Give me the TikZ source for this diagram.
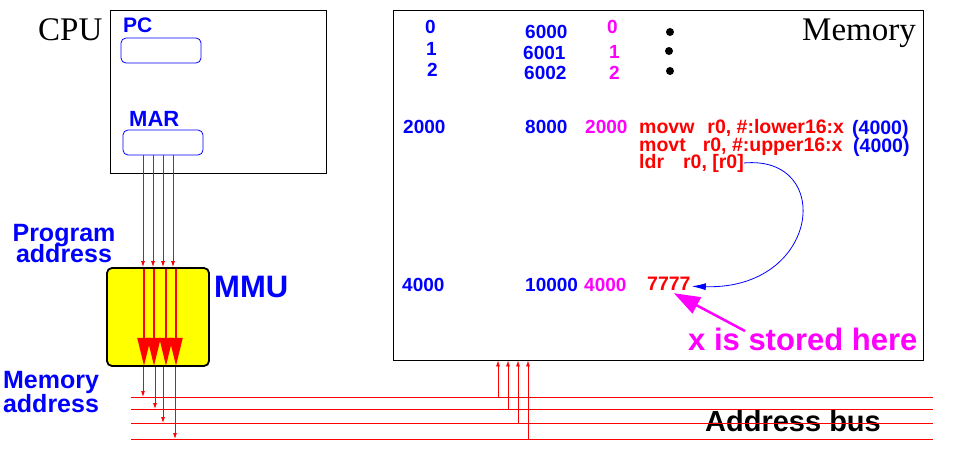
\documentclass[tikz,border=0pt]{standalone}
\usepackage{fontspec}
\setmainfont{Liberation Serif}
\setsansfont{Liberation Sans}
\usetikzlibrary{arrows.meta}
\definecolor{magenta}{RGB}{255,0,255}
\definecolor{yellow}{RGB}{255,255,0}
\definecolor{red}{RGB}{255,0,0}
\definecolor{blue}{RGB}{0,0,255}

\tikzset{
	frame/.style={draw=black, line width=0.8pt, inner sep=0pt},
	reg/.style={draw=blue, line width=0.8pt, rounded corners=5pt, minimum width=80pt, minimum height=25pt, inner sep=0pt},
	num/.style={blue, anchor=base west, inner sep=0pt, font=\sffamily\bfseries\fontsize{19}{19}\selectfont},
	code/.style={red, anchor=base west, inner sep=0pt, font=\sffamily\bfseries\fontsize{19.5}{19.5}\selectfont},
	wire/.style={red, line width=0.8pt},
	wirearrow/.style={wire, -{Latex[length=6pt,width=4pt]}},
	mmuarrow/.style={red, line width=2pt, -{Triangle[length=28pt,width=13pt]}},
}

\begin{document}
\begin{tikzpicture}[x=1pt, y=-1pt]
	\useasboundingbox (0, 0) rectangle (957, 463);
	\node[frame, minimum width=216pt, minimum height=163pt](cpu) at (218, 91.5){};
	\node[anchor=base west, inner sep=0pt, font=\fontsize{33}{33}\selectfont](cpulbl) at (38, 40){CPU};
	\node[reg](pc) at (161, 50.5){};
	\node[reg](mar) at (163, 142.5){};
	\node[blue, anchor=base west, inner sep=0pt, font=\sffamily\bfseries\fontsize{21}{21}\selectfont](pclbl) at (123, 32){PC};
	\node[blue, anchor=base west, inner sep=0pt, font=\sffamily\bfseries\fontsize{22}{22}\selectfont](marlbl) at (129, 126){MAR};
	\node[frame, line width=1.8pt, fill=yellow, rounded corners=5pt, minimum width=102pt, minimum height=98pt](mmu) at (158, 317){};
	\node[blue, anchor=base west, inner sep=0pt, font=\sffamily\bfseries\fontsize{31}{31}\selectfont](mmulbl) at (214, 297){MMU};
	\node[blue, anchor=base, align=center, inner sep=0pt, font=\sffamily\bfseries\fontsize{25}{20}\selectfont](proglbl) at (64, 262){Program\\[-4pt]address};
	\node[blue, anchor=base, align=center, inner sep=0pt, font=\sffamily\bfseries\fontsize{25}{24}\selectfont](memaddrlbl) at (51, 412){Memory\\address};
	\node[frame, minimum width=530pt, minimum height=350pt](mem) at (658, 185){};
	\node[anchor=base west, inner sep=0pt, font=\fontsize{33}{33}\selectfont](memlbl) at (802, 40){Memory};
	\node[num](a0) at (425, 33){0};
	\node[num](a1) at (426, 55){1};
	\node[num](a2) at (427, 76){2};
	\node[num](a2000) at (403, 133){2000};
	\node[num](a4000) at (402, 291){4000};
	\node[num](p0) at (525, 38){6000};
	\node[num](p1) at (523, 59){6001};
	\node[num](p2) at (524, 79){6002};
	\node[num](p2000) at (525, 133){8000};
	\node[num](p4000) at (525, 291){10000};
	\node[num, magenta](v0) at (607, 33){0};
	\node[num, magenta](v1) at (609, 58){1};
	\node[num, magenta](v2) at (609, 79){2};
	\node[num, magenta](v2000) at (585, 133){2000};
	\node[num, magenta](v4000) at (584, 291){4000};
	\node[circle, fill=black, inner sep=0pt, minimum size=8pt](dot1) at (670, 32){};
	\node[circle, fill=black, inner sep=0pt, minimum size=8pt](dot2) at (669, 51){};
	\node[circle, fill=black, inner sep=0pt, minimum size=8pt](dot3) at (670, 71){};
	\node[code](code1) at (639, 133){movw\hspace{13pt}r0, \#:lower16:x};
	\node[code](code2) at (639, 151){movt\hspace{17pt}r0, \#:upper16:x};
	\node[code](code3) at (639, 168){ldr\hspace{19pt}r0, [r0]};
	\node[code, blue](addr1) at (852, 134){(4000)};
	\node[code, blue](addr2) at (853, 152){(4000)};
	\node[code](v7777) at (647, 290){7777};
	\node[magenta, anchor=base west, inner sep=0pt, font=\sffamily\bfseries\fontsize{31}{31}\selectfont](stored) at (688, 350){x is stored here};
	\node[anchor=base west, inner sep=0pt, font=\sffamily\bfseries\fontsize{29}{29}\selectfont](buslbl) at (705, 431){Address bus};
	\coordinate (b1w) at (131, 397);
	\coordinate (b1e) at (933, 397);
	\coordinate (b2w) at (131, 409);
	\coordinate (b2e) at (933, 409);
	\coordinate (b3w) at (131, 423);
	\coordinate (b3e) at (933, 423);
	\coordinate (b4w) at (131, 439);
	\coordinate (b4e) at (933, 439);
	\coordinate (xtail) at (745, 331);
	\draw[wire] (b1w) -- (b1e);
	\draw[wire] (b2w) -- (b2e);
	\draw[wire] (b3w) -- (b3e);
	\draw[wire] (b4w) -- (b4e);
	\draw[wirearrow] ([xshift=-20pt]mar.south) -- ([xshift=-20pt]mar.south |- mmu.north);
	\draw[wirearrow] ([xshift=-10pt]mar.south) -- ([xshift=-10pt]mar.south |- mmu.north);
	\draw[wirearrow] (mar.south) -- (mar.south |- mmu.north);
	\draw[wirearrow] ([xshift=10pt]mar.south) -- ([xshift=10pt]mar.south |- mmu.north);
	\draw[mmuarrow] ([xshift=-14pt, yshift=-2pt]mmu.north) -- ([xshift=-14pt, yshift=1pt]mmu.south);
	\draw[mmuarrow] ([xshift=-4pt, yshift=-2pt]mmu.north) -- ([xshift=-4pt, yshift=1pt]mmu.south);
	\draw[mmuarrow] ([xshift=8pt, yshift=-2pt]mmu.north) -- ([xshift=8pt, yshift=1pt]mmu.south);
	\draw[mmuarrow] ([xshift=18pt, yshift=-2pt]mmu.north) -- ([xshift=18pt, yshift=1pt]mmu.south);
	\draw[wirearrow] ([xshift=-15pt]mmu.south) -- ([xshift=-15pt]mmu.south |- b1w);
	\draw[wirearrow] ([xshift=-3pt]mmu.south) -- ([xshift=-3pt]mmu.south |- b2w);
	\draw[wirearrow] ([xshift=5pt]mmu.south) -- ([xshift=5pt]mmu.south |- b3w);
	\draw[wirearrow] ([xshift=17pt]mmu.south) -- ([xshift=17pt]mmu.south |- b4w);
	\draw[wirearrow] ([xshift=-160pt]mem.south |- b1w) -- ([xshift=-160pt]mem.south);
	\draw[wirearrow] ([xshift=-150pt]mem.south |- b2w) -- ([xshift=-150pt]mem.south);
	\draw[wirearrow] ([xshift=-140pt]mem.south |- b3w) -- ([xshift=-140pt]mem.south);
	\draw[wirearrow] ([xshift=-130pt]mem.south |- b4w) -- ([xshift=-130pt]mem.south);
	\draw[blue, line width=0.8pt, -{Latex[length=14pt,width=7pt]}] (code3.east) .. controls (835, 155) and (820, 290) .. ([xshift=1pt, yshift=-3pt]v7777.east);
	\draw[magenta, line width=2.5pt, -{Triangle[length=26pt,width=18pt]}] (xtail) -- ([xshift=5pt, yshift=-3pt]v7777.south);
\end{tikzpicture}
\end{document}
